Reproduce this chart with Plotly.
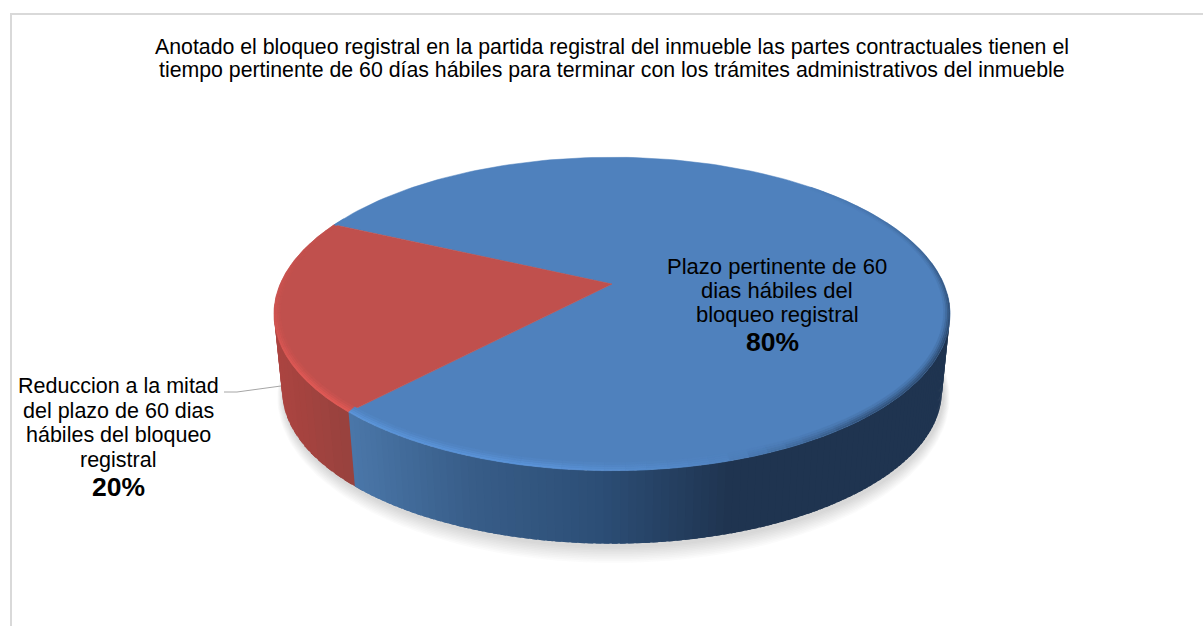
import numpy as np
import plotly.graph_objects as go

# ---- data ----
values = [80, 20]
slice_names = ["Plazo pertinente de 60 dias hábiles del bloqueo registral",
               "Reduccion a la mitad del plazo de 60 dias hábiles del bloqueo registral"]
pct_labels = ["80%", "20%"]
title_lines = ["Anotado el bloqueo registral en la partida registral del inmueble las partes contractuales tienen el",
               "tiempo pertinente de 60 días hábiles para terminar con los trámites administrativos del inmueble"]
label_a_lines = ["Plazo pertinente de 60", "dias hábiles del", "bloqueo registral"]
label_b_lines = ["Reduccion a la mitad", "del plazo de 60 dias", "hábiles del bloqueo", "registral"]
top_colors = [(79, 129, 189), (192, 80, 77)]
light_colors = [(92, 150, 220), (228, 90, 86)]

# ---- 3-D pie projection parameters ----
FIRST_ANGLE = 154.9
K = 0.191
TOP = dict(cx=612.0, y0=284.0, a=151.0, b=331.8)
SCALE_BOTTOM = 0.976
BOT = dict(cx=612.0, y0=361.5, a=151.0 * SCALE_BOTTOM, b=331.8 * SCALE_BOTTOM)


def proj(theta_deg, disk, ru=1.0, rv=1.0):
    t = np.radians(theta_deg)
    u = ru * np.cos(t)
    v = rv * np.sin(t)
    d = 1 + K * v
    return disk["cx"] + disk["b"] * u / d, disk["y0"] - disk["a"] * v / d


def mix(c1, c2, f):
    return tuple(c1[i] + (c2[i] - c1[i]) * f for i in range(3))


def css(c):
    return "rgb(%d,%d,%d)" % tuple(int(round(x)) for x in c)


def poly(fig, xs, ys, color, lw=0.8):
    fig.add_trace(go.Scatter(x=list(xs) + [xs[0]], y=list(ys) + [ys[0]], mode="lines", fill="toself",
                             fillcolor=color, line=dict(color=color, width=lw),
                             hoverinfo="skip", showlegend=False))


fig = go.Figure()

# slice extents, clockwise from first angle
spans = []
ang = FIRST_ANGLE
for val in values:
    sweep = val / sum(values) * 360
    spans.append((ang - sweep, ang))
    ang -= sweep
# on an increasing turn starting at the first angle: red first, then blue
red_start = FIRST_ANGLE
red_end = FIRST_ANGLE + values[1] / sum(values) * 360
blue_end = FIRST_ANGLE + 360

# soft shadow under the pie
for i in range(10, 0, -1):
    th = np.linspace(0, 360, 181)
    sx, sy = proj(th, BOT, 1 + 0.0016 * i, 1 + 0.0075 * i)
    sx = sx + 1.5
    sy = sy + 2
    fig.add_trace(go.Scatter(x=sx, y=sy, mode="lines", fill="toself", fillcolor="rgba(120,120,120,0.026)",
                             line=dict(width=0, color="rgba(0,0,0,0)"), hoverinfo="skip", showlegend=False))

# wall colour ramps by horizontal position
blue_x = [352, 470, 600, 730, 950]
blue_r = [74, 56, 44, 31, 31]
blue_g = [118, 93, 78, 52, 52]
blue_b = [168, 136, 118, 80, 80]
red_x = [274, 352]
red_r = [172, 150]
red_g = [68, 66]
red_b = [64, 62]


def wall(t_from, t_to, n, xp, rp, gp, bp):
    edges = np.linspace(t_from, t_to, n + 1)
    step = edges[1] - edges[0]
    for t0, t1 in zip(edges[:-1], edges[1:]):
        t1x = min(t1 + 0.7 * step, 355) if t_to >= 355 else t1 + 0.7 * step
        x0, y0 = proj(t0, TOP)
        x1, y1 = proj(t1x, TOP)
        x2, y2 = proj(t1x, BOT)
        x3, y3 = proj(t0, BOT)
        xm = float(proj((t0 + t1) / 2, TOP)[0])
        c = (np.interp(xm, xp, rp), np.interp(xm, xp, gp), np.interp(xm, xp, bp))
        poly(fig, [x0, x1, x2, x3], [y0, y1, y2, y3], css(c), lw=0)


wall(185, red_end, 16, red_x, red_r, red_g, red_b)
wall(red_end, 355, 110, blue_x, blue_r, blue_g, blue_b)

# top-face slices
for i, (lo, hi) in enumerate(spans):
    th = np.linspace(lo, hi, 200)
    px, py = proj(th, TOP)
    poly(fig, [TOP["cx"]] + list(px), [TOP["y0"]] + list(py), css(top_colors[i]), lw=0.5)

# bevel rings: highlight on near-left rim, shade on right rim
levels = [(1.0, 0.95), (0.75, 0.7), (0.5, 0.42), (0.25, 0.18)]


def rim_strength(theta):
    th = theta % 360
    hi = np.interp(th, [150, 185, 215, 260, 285, 300], [0, 0.35, 0.95, 0.9, 0.2, 0])
    if th > 280:
        dk = np.interp(th, [285, 310, 340, 360], [0, 0.75, 0.9, 0.7])
    else:
        dk = np.interp(th, [0, 25, 50], [0.7, 0.3, 0])
    return hi, dk


DARK = (31, 52, 80)
RU, RV = 0.018, 0.036


def rim(t_from, t_to, n, idx):
    edges = np.linspace(t_from, t_to, n + 1)
    for lev, weight in levels:
        outer = lev
        inner = lev - 0.25
        for t0, t1 in zip(edges[:-1], edges[1:]):
            hi, dk = rim_strength((t0 + t1) / 2)
            if hi * weight < 0.02 and dk * weight < 0.02:
                continue
            c = mix(top_colors[idx], light_colors[idx], hi * weight)
            c = mix(c, DARK, dk * weight * 0.8)
            ro_u, ro_v = 1 - RU * (1 - outer), 1 - RV * (1 - outer)
            ri_u, ri_v = 1 - RU * (1 - inner), 1 - RV * (1 - inner)
            xa, ya = proj(t0, TOP, ro_u, ro_v)
            xb, yb = proj(t1, TOP, ro_u, ro_v)
            xc, yc = proj(t1, TOP, ri_u, ri_v)
            xd, yd = proj(t0, TOP, ri_u, ri_v)
            poly(fig, [xa, xb, xc, xd], [ya, yb, yc, yd], css(c), lw=0.3)


rim(red_start, red_end, 24, 1)
rim(red_end, blue_end, 96, 0)

# leader line from the 20% label to its slice
fig.add_trace(go.Scatter(x=[224, 237, 281], y=[392, 392, 386], mode="lines",
                         line=dict(color="#a6a6a6", width=1), hoverinfo="skip", showlegend=False))

FONT = "Liberation Sans, Arial, sans-serif"


def txt(s, x, y, size, bold=False):
    fig.add_annotation(x=x, y=y, xref="x", yref="y", text="<b>%s</b>" % s if bold else s, showarrow=False,
                       xanchor="center", yanchor="middle", font=dict(family=FONT, size=size, color="black"))


title_y = [47, 70]
for s, y in zip(title_lines, title_y):
    txt(s, 612, y, 21.3)
for s, y in zip(label_a_lines, [266, 290, 314]):
    txt(s, 777, y, 22)
txt(pct_labels[0], 772, 342, 26.5, True)
for s, y in zip(label_b_lines, [386, 411, 435, 460]):
    txt(s, 118, y, 21.5)
txt(pct_labels[1], 118, 487, 26.5, True)

fig.update_layout(
    width=1203, height=626, margin=dict(l=0, r=0, t=0, b=0),
    paper_bgcolor="white", plot_bgcolor="white", showlegend=False,
    xaxis=dict(range=[0, 1203], visible=False, fixedrange=True),
    yaxis=dict(range=[626, 0], visible=False, fixedrange=True),
    shapes=[
        dict(type="line", xref="x", yref="y", x0=11, x1=11, y0=13, y1=626, line=dict(color="#d9d9d9", width=2)),
        dict(type="line", xref="x", yref="y", x0=10, x1=1203, y0=14, y1=14, line=dict(color="#d9d9d9", width=2)),
    ],
)

fig.write_html("out.html", config={"displayModeBar": False},
               post_script="document.body.style.margin='0';document.body.style.overflow='hidden';")
